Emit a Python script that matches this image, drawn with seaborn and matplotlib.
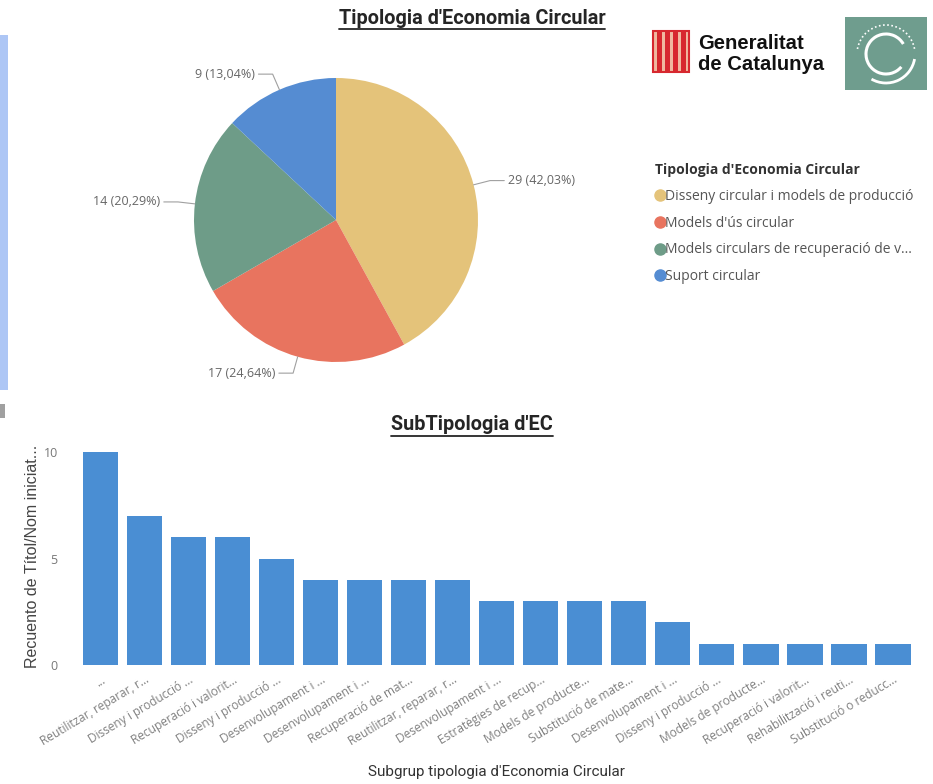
import numpy as np
import pandas as pd
import matplotlib
matplotlib.use("Agg")
import matplotlib.pyplot as plt
import seaborn as sns
from matplotlib.lines import Line2D
from matplotlib.patches import Rectangle, Arc

# -------------------------
# data
# -------------------------
tipologies = [
    "Disseny circular i models de producció",
    "Models d'ús circular",
    "Models circulars de recuperació de v...",
    "Suport circular",
]
tipologia_counts = [29, 17, 14, 9]
tipologia_colors = ["#E4C37A", "#E8745F", "#6E9C88", "#558CD2"]

subtip_labels = [
    "...",
    "Reutilitzar, reparar, r...",
    "Disseny i producció ...",
    "Recuperació i valorit...",
    "Disseny i producció ...",
    "Desenvolupament i ...",
    "Desenvolupament i ...",
    "Recuperació de mat...",
    "Reutilitzar, reparar, r...",
    "Desenvolupament i ...",
    "Estratègies de recup...",
    "Models de producte...",
    "Substitució de mate...",
    "Desenvolupament i ...",
    "Disseny i producció ...",
    "Models de producte...",
    "Recuperació i valorit...",
    "Rehabilització i reuti...",
    "Substitució o reducc...",
]
subtip_counts = [10, 7, 6, 6, 5, 4, 4, 4, 4, 3, 3, 3, 3, 2, 1, 1, 1, 1, 1]
bar_color = "#4A8ED3"

sns.set_theme(style="white")
plt.rcParams["font.family"] = ["Open Sans", "DejaVu Sans"]

W, H = 933, 784
fig = plt.figure(figsize=(W / 100, H / 100), dpi=100)

# decoration layer (pixel coords)
ax_deco = fig.add_axes([0, 0, 1, 1], zorder=-1)
ax_deco.set_xlim(0, W)
ax_deco.set_ylim(H, 0)
ax_deco.axis("off")
ax_deco.add_patch(Rectangle((0, 35), 8, 355, color="#ADC6F5", lw=0))
ax_deco.add_patch(Rectangle((0, 404), 5, 14, color="#A0A0A0", lw=0))

# Generalitat logo
ax_deco.add_patch(Rectangle((653, 31), 36, 41, facecolor="#F0B9A0", edgecolor="#D7282F", lw=1.5))
for i in range(4):
    ax_deco.add_patch(Rectangle((657 + i * 8, 32), 4.5, 39, color="#D7282F", lw=0))
ax_deco.text(698, 43, "Generalitat", fontsize=14.6, fontweight="bold", va="center",
             family=["Liberation Sans", "DejaVu Sans"], color="#111")
ax_deco.text(698, 64, "de Catalunya", fontsize=14.6, fontweight="bold", va="center",
             family=["Liberation Sans", "DejaVu Sans"], color="#111")

# green circular logo
ax_deco.add_patch(Rectangle((845, 17), 82, 73, color="#6F9D8E", lw=0))
ax_deco.add_patch(Arc((886, 54), 40, 40, theta1=40, theta2=330, color="white", lw=2.2))
ax_deco.add_patch(Arc((886, 54), 58, 58, theta1=190, theta2=350, color="white", lw=1.2, ls=(0, (1, 1.5))))
ax_deco.add_patch(Arc((886, 54), 58, 58, theta1=10, theta2=120, color="white", lw=2))

# -------------------------
# pie chart
# -------------------------
cx, cy, r = 336, 220, 142
ax_pie = fig.add_axes([(cx - r) / W, (H - cy - r) / H, 2 * r / W, 2 * r / H])
wedges, _ = ax_pie.pie(tipologia_counts, colors=tipologia_colors, startangle=90,
                       counterclock=False, wedgeprops=dict(linewidth=0))
ax_pie.set_xlim(-1, 1)
ax_pie.set_ylim(-1, 1)

total = sum(tipologia_counts)
for w, c in zip(wedges, tipologia_counts):
    a = np.deg2rad((w.theta1 + w.theta2) / 2)
    ex, ey = np.cos(a), np.sin(a)
    bx, by = 1.12 * ex, 1.12 * ey
    side = 1 if ex > 0 else -1
    lx = bx + side * 0.1
    ax_pie.plot([ex, bx, lx], [ey, by, by], color="#A0A0A0", lw=0.8, clip_on=False)
    lbl = f"{c} ({c / total * 100:.2f}%)".replace(".", ",")
    ax_pie.text(lx + side * 0.025, by, lbl, ha="left" if side > 0 else "right",
                va="center", fontsize=9, color="#666")

t_pie = fig.text(472 / W, 1 - 18 / H, "Tipologia d'Economia Circular", ha="center", va="center",
                 fontsize=14.3, fontweight="bold", family=["Roboto", "DejaVu Sans"], color="#252525")

handles = [Line2D([], [], marker="o", ls="", color=c, markersize=8) for c in tipologia_colors]
leg = fig.legend(handles, tipologies, title="Tipologia d'Economia Circular", loc="upper left",
                 bbox_to_anchor=(655 / W, 1 - 163 / H), frameon=False, fontsize=10,
                 title_fontsize=10, handletextpad=0.0, handlelength=0.75, labelspacing=0.85,
                 alignment="left", borderaxespad=0, borderpad=0)
leg.get_title().set_fontweight("bold")
leg.get_title().set_color("#333")
for t in leg.get_texts():
    t.set_color("#555")

# -------------------------
# bar chart
# -------------------------
ymax = 10.2
x0, x1, ybase = 78.5, 915, 665
hpx = 213 * ymax / 10
ax_bar = fig.add_axes([x0 / W, (H - ybase) / H, (x1 - x0) / W, hpx / H])
df = pd.DataFrame({"idx": np.arange(len(subtip_counts)), "count": subtip_counts})
sns.barplot(data=df, x="idx", y="count", color=bar_color, saturation=1, width=0.8,
            linewidth=0, ax=ax_bar)
ax_bar.set_xlim(-0.5, len(subtip_counts) - 0.5)
ax_bar.set_ylim(0, ymax)
ax_bar.set_yticks([0, 5, 10])
ax_bar.set_xticks(np.arange(len(subtip_labels)))
ax_bar.set_xticklabels(subtip_labels, rotation=31, ha="right", rotation_mode="anchor",
                       fontsize=8.6, color="#808080")
ax_bar.tick_params(axis="x", length=0, pad=6)
ax_bar.tick_params(axis="y", length=0, pad=15, labelsize=9, labelcolor="#777")
sns.despine(ax=ax_bar, left=True, bottom=True)

ax_bar.set_ylabel("Recuento de Títol/Nom iniciat...", fontsize=11.5, color="#444",
                  family=["Liberation Sans", "DejaVu Sans"])
ax_bar.yaxis.set_label_coords(-0.046, 0.5)
ax_bar.set_xlabel("Subgrup tipologia d'Economia Circular", fontsize=11, color="#333",
                  family=["Roboto", "DejaVu Sans"])
ax_bar.xaxis.set_label_coords(0.5, -0.458)

t_bar = fig.text(472 / W, 1 - 425 / H, "SubTipologia d'EC", ha="center", va="center",
                 fontsize=14.3, fontweight="bold", family=["Roboto", "DejaVu Sans"], color="#252525")

# underline titles
fig.canvas.draw()
rend = fig.canvas.get_renderer()
inv = fig.transFigure.inverted()
for t in (t_pie, t_bar):
    bb = t.get_window_extent(rend)
    (ax0, ay0), (ax1, _) = inv.transform([(bb.x0, bb.y0 - 1), (bb.x1, bb.y0 - 1)])
    fig.add_artist(Line2D([ax0, ax1], [ay0, ay0], transform=fig.transFigure,
                          color="#252525", lw=1.3))

fig.savefig("out.png", dpi=100)
